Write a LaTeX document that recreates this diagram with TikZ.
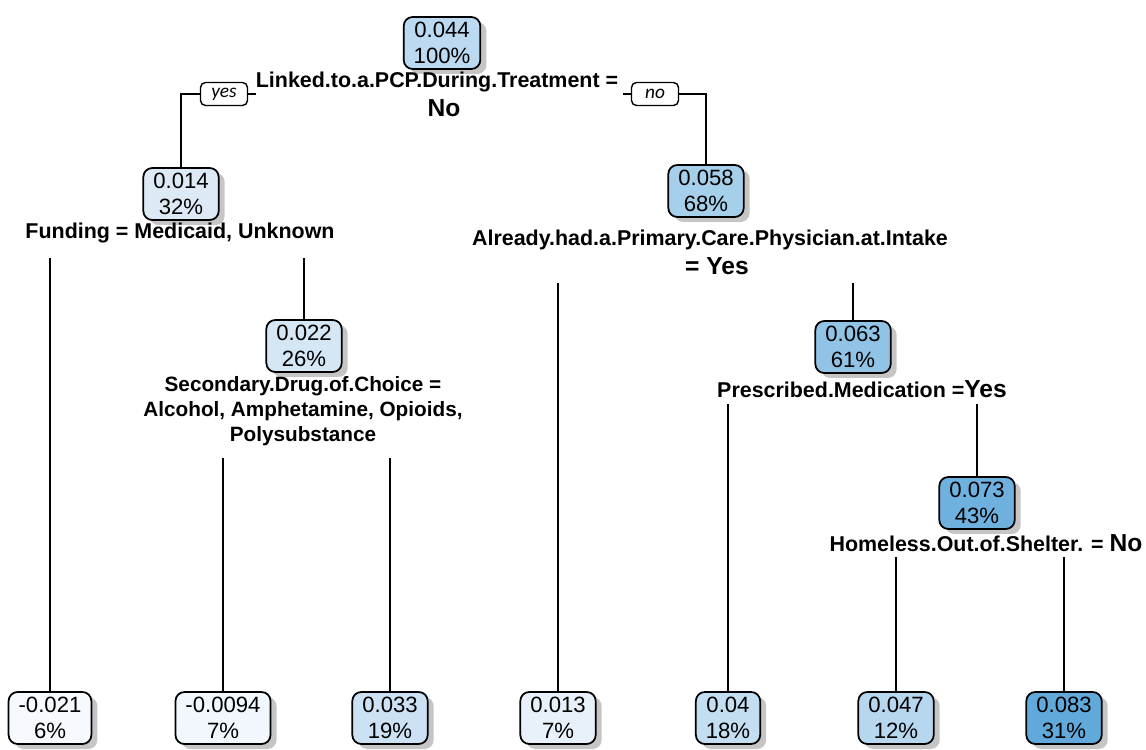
\documentclass[tikz,border=0pt]{standalone}
\usepackage{fontspec}
\setmainfont{Liberation Sans}
\newfontfamily\calfont{Carlito}
\usetikzlibrary{shadows}
\definecolor{c044}{HTML}{BBD9F0}
\definecolor{c014}{HTML}{DDEAF6}
\definecolor{c058}{HTML}{A6CFEB}
\definecolor{c022}{HTML}{D5E6F5}
\definecolor{c063}{HTML}{91C3E6}
\definecolor{c073}{HTML}{6FB1DE}
\definecolor{cl1}{HTML}{F6FAFE}
\definecolor{cl2}{HTML}{F1F7FD}
\definecolor{cl3}{HTML}{CCE1F3}
\definecolor{cl4}{HTML}{E8F1FA}
\definecolor{cl5}{HTML}{C3DDF1}
\definecolor{cl6}{HTML}{B7D7EF}
\definecolor{cl7}{HTML}{62A9DB}
\tikzset{
  tbox/.style={draw=black, line width=1pt, rounded corners=0.18cm, align=center,
    font=\fontsize{12.6}{15}\selectfont, inner xsep=0.2cm, inner ysep=2pt,
    minimum height=1.04cm,
    drop shadow={shadow xshift=0.12cm, shadow yshift=-0.1cm, fill=black!30, opacity=0.75}},
  lab/.style={font=\bfseries\fontsize{12.2}{14.2}\selectfont, inner sep=0pt, align=center},
  ynbox/.style={draw=black, line width=0.8pt, rounded corners=0.1cm, minimum width=0.94cm,
    minimum height=0.46cm, inner sep=0pt, font=\calfont\itshape\fontsize{11}{11}\selectfont},
  conn/.style={line width=0.9pt, draw=black}
}
\newcommand{\valtxt}[1]{{\fontsize{14}{14}\selectfont #1}}
\begin{document}
\begin{tikzpicture}[x=0.02cm, y=-0.02cm]
\useasboundingbox (0,0) rectangle (1146,750);
% internal nodes
\node[tbox, fill=c044] (root) at (442,43) {0.044\\100\%};
\node[tbox, fill=c014] (n014) at (181,194) {0.014\\32\%};
\node[tbox, fill=c058] (n058) at (706,191) {0.058\\68\%};
\node[tbox, fill=c022] (n022) at (304,346) {0.022\\26\%};
\node[tbox, fill=c063] (n063) at (853,347) {0.063\\61\%};
\node[tbox, fill=c073] (n073) at (977,503) {0.073\\43\%};
% leaves
\node[tbox, fill=cl1] (l1) at (50,718) {-0.021\\6\%};
\node[tbox, fill=cl2] (l2) at (223,718) {-0.0094\\7\%};
\node[tbox, fill=cl3] (l3) at (390,718) {0.033\\19\%};
\node[tbox, fill=cl4] (l4) at (558,718) {0.013\\7\%};
\node[tbox, fill=cl5] (l5) at (728,718) {0.04\\18\%};
\node[tbox, fill=cl6] (l6) at (896,718) {0.047\\12\%};
\node[tbox, fill=cl7] (l7) at (1064,718) {0.083\\31\%};
% split labels
\node[lab] (s1) at (437,82) {Linked.to.a.PCP.During.Treatment =};
\node[lab] (s1v) at (444,108) {\valtxt{No}};
\node[ynbox] (yes) at (224,94) {yes};
\node[ynbox] (no) at (655,94) {no};
\node[lab] (s2) at (180,233) {Funding = Medicaid, Unknown};
\node[lab] (s3) at (710,240) {Already.had.a.Primary.Care.Physician.at.Intake};
\node[lab] (s3v) at (717,266) {\valtxt{= Yes}};
\node[lab, font=\bfseries\fontsize{11.8}{14.3}\selectfont] (s4) at (303,411) {Secondary.Drug.of.Choice =\\Alcohol, Amphetamine, Opioids,\\Polysubstance};
\node[lab] (s5) at (862,389) {Prescribed.Medication =\valtxt{Yes}};
\node[lab] (s6) at (986,543) {Homeless.Out.of.Shelter. = \valtxt{No}};
% split line anchors
\coordinate (b2) at (0,258);
\coordinate (b3) at (0,283);
\coordinate (b4) at (0,458);
\coordinate (b5) at (0,404);
\coordinate (b6) at (0,557);
% connectors
\draw[conn] (n014.north) |- (yes.west);
\draw[conn] (yes.east) -- (yes.east -| s1.west);
\draw[conn] (no.west) -- ++(-8,0);
\draw[conn] (no.east) -| (n058.north);
\draw[conn] (l1.north) -- (l1.north |- b2);
\draw[conn] (n022.north) -- (n022.north |- b2);
\draw[conn] (l2.north) -- (l2.north |- b4);
\draw[conn] (l3.north) -- (l3.north |- b4);
\draw[conn] (l4.north) -- (l4.north |- b3);
\draw[conn] (n063.north) -- (n063.north |- b3);
\draw[conn] (l5.north) -- (l5.north |- b5);
\draw[conn] (n073.north) -- (n073.north |- b5);
\draw[conn] (l6.north) -- (l6.north |- b6);
\draw[conn] (l7.north) -- (l7.north |- b6);
\end{tikzpicture}
\end{document}
